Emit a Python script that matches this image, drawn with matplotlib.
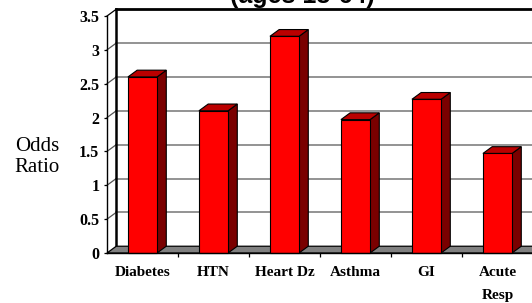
import matplotlib
matplotlib.use("Agg")
import matplotlib.pyplot as plt
from matplotlib.patches import Polygon, Rectangle

# data
categories = ["Diabetes", "HTN", "Heart Dz", "Asthma", "GI", "Acute\nResp"]
odds_ratio = [2.6, 2.1, 3.2, 1.97, 2.27, 1.47]
yticks = [0, 0.5, 1, 1.5, 2, 2.5, 3, 3.5]
ytick_labels = ["0", "0.5", "1", "1.5", "2", "2.5", "3", "3.5"]

serif = ["Liberation Serif", "DejaVu Serif"]
sans = ["Liberation Sans", "DejaVu Sans"]

fig = plt.figure(figsize=(5.32, 3.03), dpi=100)
ax = fig.add_axes([107 / 532, 50 / 303, 426 / 532, 237 / 303])
ax.set_facecolor("none")

n = len(categories)
x0, x1 = -0.5, n - 0.5
ymax = 3.5
dx, dy = 0.13, 0.1      # depth offset of the fake 3d
bw = 0.41               # bar width

# back wall gridlines + side wall diagonals
for v in yticks[1:-1]:
    ax.plot([x0 + dx, x1 + dx], [v + dy, v + dy], color="#808080", lw=1.2, clip_on=False, zorder=1)
    ax.plot([x0, x0 + dx], [v, v + dy], color="#555555", lw=0.9, clip_on=False, zorder=1)

# top edge of back wall, back-left edge, top-left connector
ax.plot([x0 + dx, x1 + dx], [ymax + dy, ymax + dy], color="black", lw=2, clip_on=False, zorder=2)
ax.plot([x0 + dx, x0 + dx], [dy, ymax + dy], color="black", lw=1.8, clip_on=False, zorder=2)
ax.plot([x0, x0 + dx], [ymax, ymax + dy], color="black", lw=0.9, clip_on=False, zorder=2)

# floor
floor = Polygon([(x0, 0), (x1 + 0.2, 0), (x1 + 0.2 + dx, dy), (x0 + dx, dy)],
                closed=True, facecolor="#808080", edgecolor="black", lw=0.9,
                clip_on=False, zorder=3)
ax.add_patch(floor)

# bars
for i, v in enumerate(odds_ratio):
    l, r = i - bw / 2, i + bw / 2
    side = Polygon([(r, 0), (r + dx, dy), (r + dx, v + dy), (r, v)], closed=True,
                   facecolor="#7a0000", edgecolor="black", lw=0.8, clip_on=False, zorder=4)
    top = Polygon([(l, v), (r, v), (r + dx, v + dy), (l + dx, v + dy)], closed=True,
                  facecolor="#bb0000", edgecolor="black", lw=0.8, clip_on=False, zorder=4)
    front = Rectangle((l, 0), bw, v, facecolor="#ff0000", edgecolor="black", lw=0.8,
                      clip_on=False, zorder=5)
    ax.add_patch(side)
    ax.add_patch(top)
    ax.add_patch(front)

ax.plot([x0, x1 + 0.2], [0, 0], color="black", lw=1, clip_on=False, zorder=6)

ax.set_xlim(x0, x1)
ax.set_ylim(0, ymax)
for s in ["top", "right"]:
    ax.spines[s].set_visible(False)
ax.spines["bottom"].set_visible(False)
ax.spines["left"].set_linewidth(1)
ax.spines["left"].set_zorder(6)

ax.set_yticks(yticks)
ax.set_yticklabels(ytick_labels, fontfamily=serif, fontweight="bold", fontsize=11.5)
ax.tick_params(axis="y", direction="out", length=2.5, width=0.9, pad=3)

ax.set_xticks(range(n))
ax.set_xticklabels(categories, fontfamily=serif, fontweight="bold", fontsize=11,
                   linespacing=2.1, va="top")
ax.set_xticks([i + 0.5 for i in range(n - 1)], minor=True)
ax.tick_params(axis="x", which="major", length=0, pad=9)
ax.tick_params(axis="x", which="minor", direction="out", length=3, width=0.9)

fig.text(37 / 532, (303 - 157) / 303, "Odds\nRatio", fontfamily=serif, fontsize=15,
         ha="center", va="center", linespacing=1.15)
fig.text(302 / 532, 300 / 303, "(ages 18-64)", fontfamily=sans, fontweight="bold",
         fontsize=18, ha="center", va="baseline")

fig.savefig("out.png", dpi=100)
